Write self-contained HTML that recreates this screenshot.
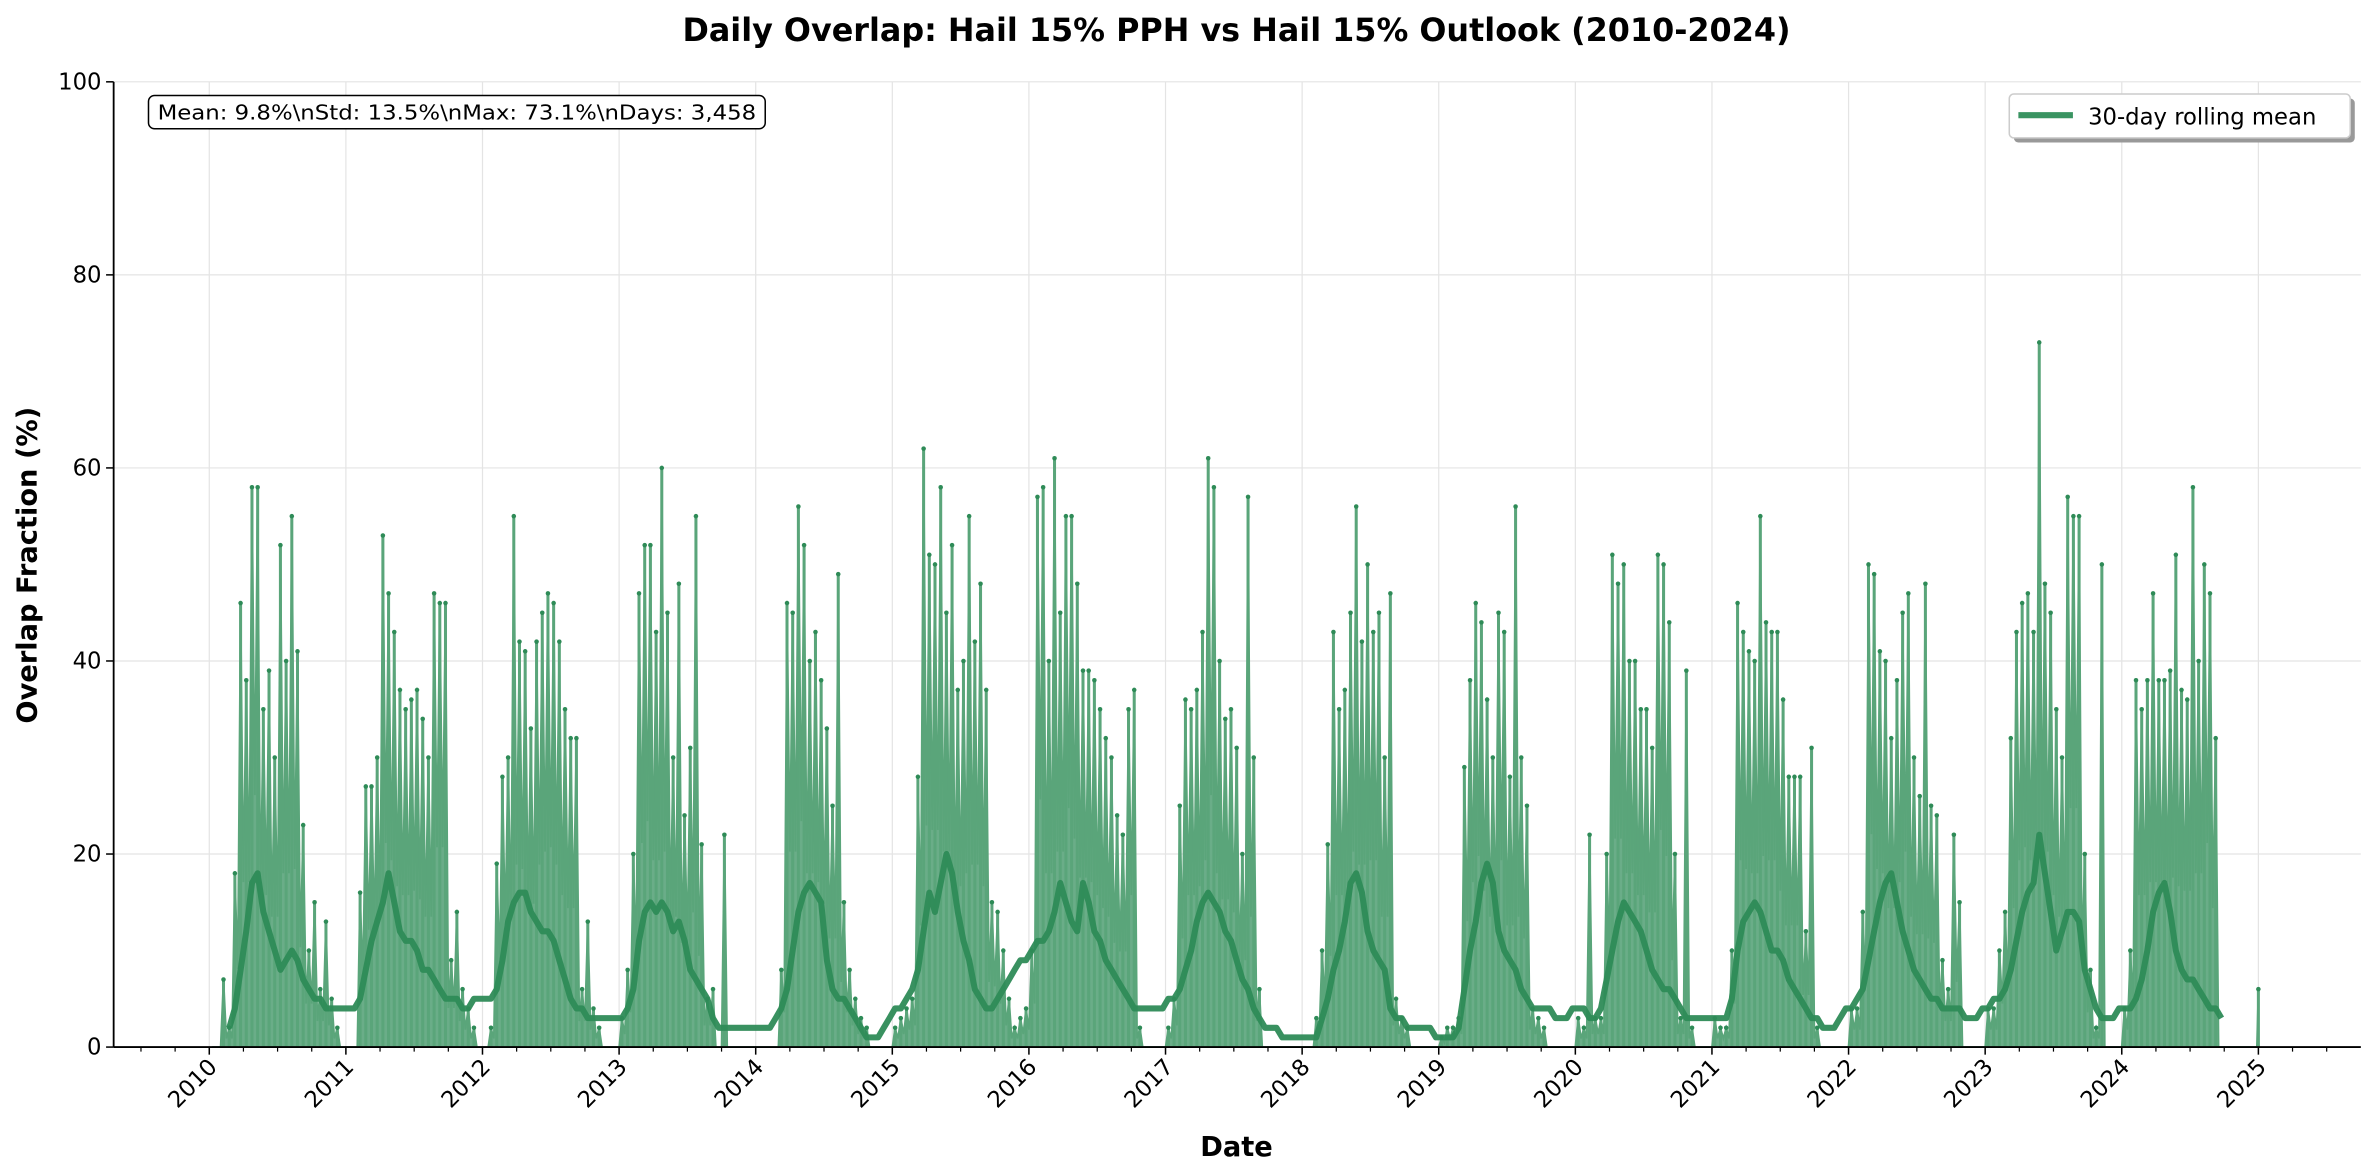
<!DOCTYPE html>
<html><head><meta charset="utf-8">
<style>
html,body{margin:0;padding:0;background:#fff;}
svg{display:block;font-family:"DejaVu Sans","Liberation Sans",sans-serif;}
</style></head>
<body>
<svg id="chart" width="2375" height="1175" viewBox="0 0 2375 1175">
<g transform="scale(1.5153)">
<text x="816" y="27" text-anchor="middle" font-size="21" font-weight="bold">Daily Overlap: Hail 15% PPH vs Hail 15% Outlook (2010-2024)</text>
<g id="grid"></g>
<g id="bars"></g>
<g id="mean"></g>
<g id="axes"></g>
<text transform="translate(24,373) rotate(-90)" text-anchor="middle" font-size="18" font-weight="bold">Overlap Fraction (%)</text>
<text x="816" y="763" text-anchor="middle" font-size="18" font-weight="bold">Date</text>
<g>
<rect x="98" y="63" width="407" height="22" rx="4" fill="#fff" stroke="#000" stroke-width="1"/>
<text x="104" y="79" font-size="13.5" textLength="395" lengthAdjust="spacingAndGlyphs">Mean: 9.8%\nStd: 13.5%\nMax: 73.1%\nDays: 3,458</text>
</g>
<g>
<rect x="1329" y="65" width="225" height="29" rx="3" fill="#999"/>
<rect x="1326" y="62" width="225" height="29" rx="3" fill="#fff" stroke="#ccc"/>
<line x1="1332" y1="76" x2="1368" y2="76" stroke="#3a9462" stroke-width="4"/>
<text x="1378" y="82" font-size="15">30-day rolling mean</text>
</g>
</g>
</svg>
<script>
const years=[2010,2011,2012,2013,2014,2015,2016,2017,2018,2019,2020,2021,2022,2023,2024];
const peaks2010=[0,0,7,2,18,46,38,58,58,35,39,30,52,40,55,41,23,10,15,6,13,5,2,0];
const peaks2011=[0,0,16,27,27,30,53,47,43,37,35,36,37,34,30,47,46,46,9,14,6,4,2,0];
const peaks2012=[0,2,19,28,30,55,42,41,33,42,45,47,46,42,35,32,32,6,13,4,2,0,0,0];
const peaks2013=[3,8,20,47,52,52,43,60,45,30,48,24,31,55,21,5,6,0,22,0,0,0,0,0];
const peaks2014=[0,0,0,0,8,46,45,56,52,40,43,38,33,25,49,15,8,5,3,2,0,0,0,0];
const peaks2015=[2,3,4,5,28,62,51,50,58,45,52,37,40,55,42,48,37,15,14,10,5,2,3,4];
const peaks2016=[10,57,58,40,61,45,55,55,48,39,39,38,35,32,30,24,22,35,37,2,0,0,0,0];
const peaks2017=[2,5,25,36,35,37,43,61,58,40,34,35,31,20,57,30,6,0,0,0,0,0,0,0];
const peaks2018=[0,0,3,10,21,43,35,37,45,56,42,50,43,45,30,47,5,3,2,0,0,0,0,0];
const peaks2019=[1,2,2,3,29,38,46,44,36,30,45,43,28,56,30,25,4,3,2,0,0,0,0,0];
const peaks2020=[3,2,22,3,3,20,51,48,50,40,40,35,35,31,51,50,44,20,3,39,2,0,0,0];
const peaks2021=[3,2,2,10,46,43,41,40,55,44,43,43,36,28,28,28,12,31,2,0,0,0,0,0];
const peaks2022=[4,4,14,50,49,41,40,32,38,45,47,30,26,48,25,24,9,6,22,15,0,0,0,0];
const peaks2023=[4,4,10,14,32,43,46,47,43,73,48,45,35,30,57,55,55,20,8,2,50,0,0,0];
const peaks2024=[4,10,38,35,38,47,38,38,39,51,37,36,58,40,50,47,32,0,0,0,0,0,0,0];
const mean2010=[null,null,null,2,4,8,12,17,18,14,12,10,8,9,10,9,7,6,5,5,4,4,4,4];
const mean2011=[4,4,5,8,11,13,15,18,15,12,11,11,10,8,8,7,6,5,5,5,4,4,5,5];
const mean2012=[5,5,6,9,13,15,16,16,14,13,12,12,11,9,7,5,4,4,3,3,3,3,3,3];
const mean2013=[3,4,6,11,14,15,14,15,14,12,13,11,8,7,6,5,3,2,2,2,2,2,2,2];
const mean2014=[2,2,2,3,4,6,10,14,16,17,16,15,9,6,5,5,4,3,2,1,1,1,2,3];
const mean2015=[4,4,5,6,8,12,16,14,17,20,18,14,11,9,6,5,4,4,5,6,7,8,9,9];
const mean2016=[10,11,11,12,14,17,15,13,12,17,15,12,11,9,8,7,6,5,4,4,4,4,4,4];
const mean2017=[5,5,6,8,10,13,15,16,15,14,12,11,9,7,6,4,3,2,2,2,1,1,1,1];
const mean2018=[1,1,1,3,5,8,10,13,17,18,16,12,10,9,8,4,3,3,2,2,2,2,2,1];
const mean2019=[1,1,1,2,6,10,13,17,19,17,12,10,9,8,6,5,4,4,4,4,3,3,3,4];
const mean2020=[4,4,3,3,4,7,10,13,15,14,13,12,10,8,7,6,6,5,4,3,3,3,3,3];
const mean2021=[3,3,3,5,10,13,14,15,14,12,10,10,9,7,6,5,4,3,3,2,2,2,3,4];
const mean2022=[4,5,6,9,12,15,17,18,15,12,10,8,7,6,5,5,4,4,4,4,3,3,3,4];
const mean2023=[4,5,5,6,8,11,14,16,17,22,18,14,10,12,14,14,13,8,6,4,3,3,3,4];
const mean2024=[4,4,5,7,10,14,16,17,14,10,8,7,7,6,5,4,4,3,null,null,null,null,null,null];
const yTicks=[0,20,40,60,80,100];
const xTickLabels=["2010","2011","2012","2013","2014","2015","2016","2017","2018","2019","2020","2021","2022","2023","2024","2025"];

const peaks=[peaks2010,peaks2011,peaks2012,peaks2013,peaks2014,peaks2015,peaks2016,peaks2017,peaks2018,peaks2019,peaks2020,peaks2021,peaks2022,peaks2023,peaks2024];
const means=[mean2010,mean2011,mean2012,mean2013,mean2014,mean2015,mean2016,mean2017,mean2018,mean2019,mean2020,mean2021,mean2022,mean2023,mean2024];
const L=75,R=1558,T=54,B=691,T0=2009.30,T1=2025.75;
const xs=t=>L+(t-T0)/(T1-T0)*(R-L);
const ys=v=>B-v/100*(B-T);
const NS='http://www.w3.org/2000/svg';
function mk(tag,attrs,parent){const e=document.createElementNS(NS,tag);for(const k in attrs)e.setAttribute(k,attrs[k]);parent.appendChild(e);return e;}
const grid=document.getElementById('grid'),axes=document.getElementById('axes'),bars=document.getElementById('bars'),mean=document.getElementById('mean');
yTicks.forEach(v=>{
  const g=mk('line',{x1:L,x2:R,y1:ys(v),y2:ys(v),stroke:'#e4e4e4','stroke-width':0.8},grid);
  
  
  mk('line',{x1:L-5,x2:L,y1:ys(v),y2:ys(v),stroke:'#000'},axes);
  const t=mk('text',{x:L-8,y:ys(v)+5,'text-anchor':'end','font-size':15},axes);
  t.textContent=v;
  
  
});
xTickLabels.forEach(lbl=>{
  const x=xs(+lbl);
  const g=mk('line',{x1:x,x2:x,y1:T,y2:B,stroke:'#e4e4e4','stroke-width':0.8},grid);
  
  
  mk('line',{x1:x,x2:x,y1:B,y2:B+5,stroke:'#000'},axes);
  const t=mk('text',{x:0,y:0,'text-anchor':'end','font-size':15,transform:`translate(${x+6},${B+14}) rotate(-45)`},axes);
  t.textContent=lbl;
  
  
});
for(let t=2009.5;t<2025.7;t+=0.25){if(Math.abs(t-Math.round(t))>0.01)mk('line',{x1:xs(t),x2:xs(t),y1:B,y2:B+3,stroke:'#000','stroke-width':0.8},axes);}
mk('line',{x1:L,x2:L,y1:T,y2:B,stroke:'#000','stroke-width':1.2},axes);
mk('line',{x1:L,x2:R,y1:B,y2:B,stroke:'#000','stroke-width':1.2},axes);
// daily series
let pts=[];
years.forEach((y,yi)=>{peaks[yi].forEach((v,i)=>{pts.push([y+(i+0.5)/24,v]);});});
pts.push([2025.0,6]);
let d='M'+xs(pts[0][0])+','+B;
pts.forEach((p,k)=>{
  d+=' L'+xs(p[0]).toFixed(1)+','+ys(p[1]).toFixed(1);
  if(k<pts.length-1){const n=pts[k+1];const lo=Math.min(p[1],n[1])*0.45;d+=' L'+xs((p[0]+n[0])/2).toFixed(1)+','+ys(lo).toFixed(1);}
});
d+=' L'+xs(pts[pts.length-1][0])+','+B+'Z';
const area=mk('path',{d:d,fill:'#6aad88',stroke:'#5aa57a','stroke-width':1.2},bars);


pts.forEach(p=>{if(p[1]>0){
  const b=mk('line',{x1:xs(p[0]),x2:xs(p[0]),y1:B,y2:ys(p[1]),stroke:'#5aa57a','stroke-width':2},bars);
  
  
  const c=mk('circle',{cx:xs(p[0]),cy:ys(p[1]),r:1.5,fill:'#2e8b57'},bars);
  
  
}});
// rolling mean
let md='',started=false;
years.forEach((y,yi)=>{means[yi].forEach((v,i)=>{if(v===null)return;md+=(started?' L':'M')+xs(y+(i+0.5)/24).toFixed(1)+','+ys(v).toFixed(1);started=true;});});
const ml=mk('path',{d:md,fill:'none',stroke:'#2e8b57','stroke-width':4,'stroke-linejoin':'round','stroke-opacity':0.95},mean);


</script>
</body></html>
